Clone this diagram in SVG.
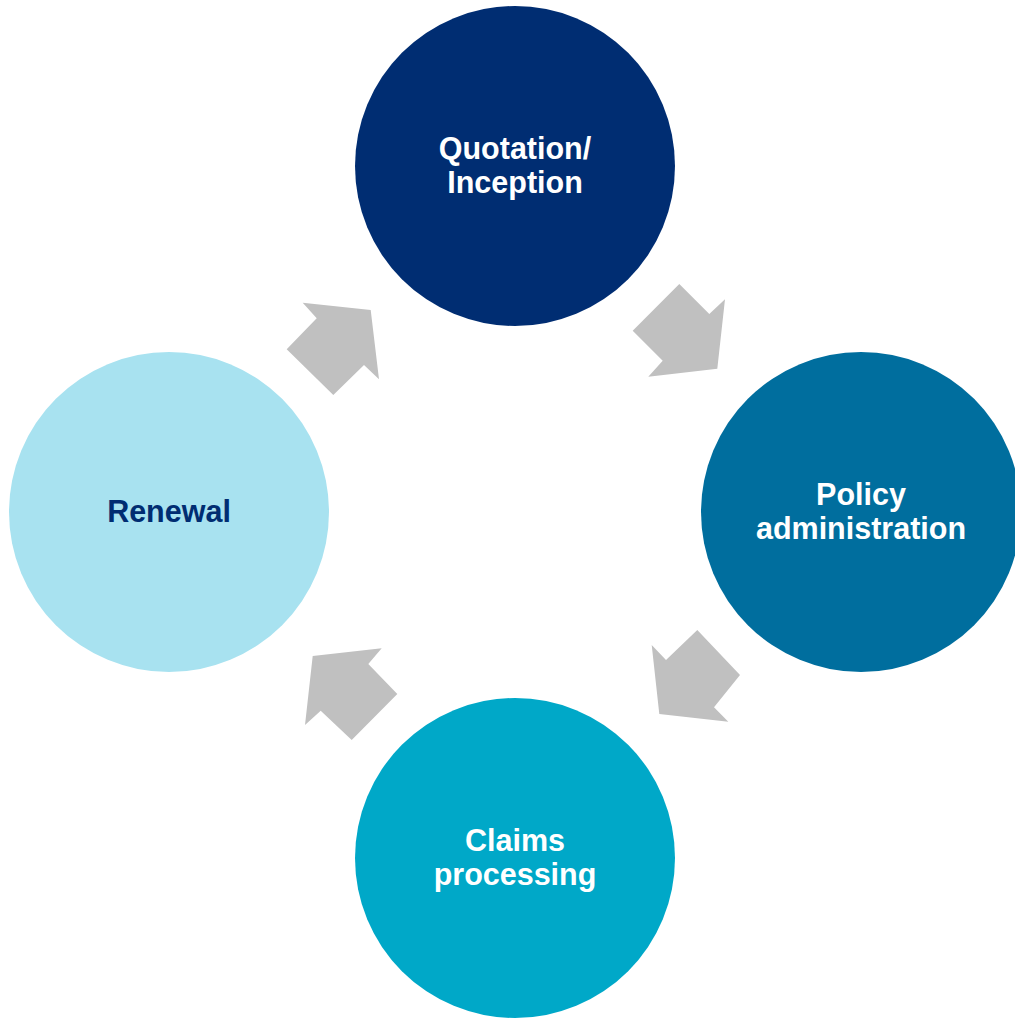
<svg xmlns="http://www.w3.org/2000/svg" width="1015" height="1018" viewBox="0 0 1015 1018">
<style>
.lbl{font-family:"Liberation Sans",Arial,sans-serif;font-weight:bold;font-size:30.5px;text-anchor:middle;fill:#FFFFFF}
.dark{fill:#002D72}
.arr{fill:#C0C0C0}
</style>
<rect width="1015" height="1018" fill="#FFFFFF"/>
<g id="connectors">
<polygon class="arr" points="679.3,284 709.3,314 725,299.3 717.3,368.7 648.3,376.7 662.7,360.7 632.7,330.7"/>
<polygon class="arr" points="697.3,630 740,675 714,707.3 728.3,721.7 659.3,714 651.7,645 666,660"/>
<polygon class="arr" points="381.7,648.3 368.3,664 397.3,694 351.7,740 320.7,710.7 305,725 312.7,656"/>
<polygon class="arr" points="302.7,302.7 370.7,310 379,379.3 364,365 333.3,395 286.7,349.3 316.7,318.3"/>
</g>
<g id="quotation">
<circle cx="515" cy="166" r="160" fill="#002D72"/>
<text class="lbl" x="515" y="159">Quotation/</text>
<text class="lbl" x="515" y="193">Inception</text>
</g>
<g id="policy">
<circle cx="861" cy="512" r="160" fill="#006E9E"/>
<text class="lbl" x="861" y="505">Policy</text>
<text class="lbl" x="861" y="539">administration</text>
</g>
<g id="claims">
<circle cx="515" cy="858" r="160" fill="#00A8C8"/>
<text class="lbl" x="515" y="851">Claims</text>
<text class="lbl" x="515" y="885">processing</text>
</g>
<g id="renewal">
<circle cx="169" cy="512" r="160" fill="#A8E2F0"/>
<text class="lbl dark" x="169" y="522">Renewal</text>
</g>
</svg>
